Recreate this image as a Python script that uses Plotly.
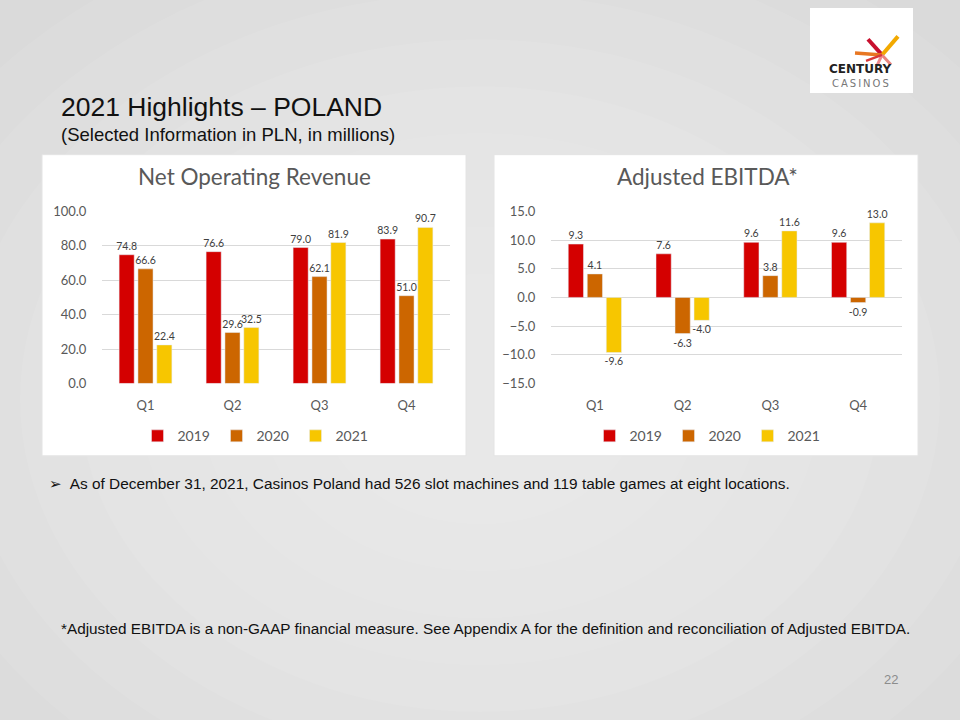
import plotly.graph_objects as go

quarters = ["Q1", "Q2", "Q3", "Q4"]
years = ["2019", "2020", "2021"]
revenue_2019 = [74.8, 76.6, 79.0, 83.9]
revenue_2020 = [66.6, 29.6, 62.1, 51.0]
revenue_2021 = [22.4, 32.5, 81.9, 90.7]
ebitda_2019 = [9.3, 7.6, 9.6, 9.6]
ebitda_2020 = [4.1, -6.3, 3.8, -0.9]
ebitda_2021 = [-9.6, -4.0, 11.6, 13.0]
colors = ["#d40000", "#cc6600", "#f7c600"]

W, H = 960, 720
def px(x):
    return x / W
def py(y):
    return 1 - y / H

fig = go.Figure()
CH_FONT = "Lato, Open Sans, sans-serif"
LBL = dict(family=CH_FONT, size=10.5, color="#404040")

for yr, vals, c in zip(years, [revenue_2019, revenue_2020, revenue_2021], colors):
    fig.add_trace(go.Bar(x=quarters, y=vals, name=yr, marker_color=c,
                         texttemplate="%{y:.1f}", textposition="outside",
                         textfont=LBL, cliponaxis=False, constraintext="none",
                         xaxis="x", yaxis="y", legend="legend"))
for yr, vals, c in zip(years, [ebitda_2019, ebitda_2020, ebitda_2021], colors):
    fig.add_trace(go.Bar(x=quarters, y=vals, name=yr, marker_color=c,
                         texttemplate="%{y:.1f}", textposition="outside",
                         textfont=LBL, cliponaxis=False, constraintext="none",
                         xaxis="x2", yaxis="y2", legend="legend2"))

axis_font = dict(family=CH_FONT, size=13, color="#595959")
common_x = dict(showgrid=False, showline=False, zeroline=False, ticks="outside",
                ticklen=10, tickcolor="rgba(0,0,0,0)", tickfont=axis_font, fixedrange=True)
common_y = dict(showgrid=True, gridcolor="#d9d9d9", gridwidth=1, zeroline=False,
                showline=False, ticks="outside", ticklen=12, tickcolor="rgba(0,0,0,0)",
                tickfont=axis_font, tickformat=".1f", fixedrange=True)

leg_common = dict(orientation="h", xanchor="center", yanchor="middle",
                  font=dict(family=CH_FONT, size=14, color="#595959"),
                  bgcolor="rgba(0,0,0,0)", itemwidth=30, traceorder="normal",
                  entrywidth=34, entrywidthmode="pixels")

ydom = [py(384), py(208)]
fig.update_layout(
    width=W, height=H,
    margin=dict(l=0, r=0, t=0, b=0),
    paper_bgcolor="#d8d8d8",
    plot_bgcolor="rgba(0,0,0,0)",
    barmode="group", bargap=0.35, bargroupgap=0.2,
    xaxis=dict(domain=[px(102), px(450)], anchor="y", **common_x),
    yaxis=dict(domain=ydom, anchor="x", range=[0, 100], dtick=20, **common_y),
    xaxis2=dict(domain=[px(551), px(902)], anchor="y2", **common_x),
    yaxis2=dict(domain=ydom, anchor="x2", range=[-15, 15], dtick=5, **common_y),
    legend=dict(x=px(256), y=py(438), **leg_common),
    legend2=dict(x=px(708), y=py(438), **leg_common),
    showlegend=True,
)

shapes = []
# background radial-ish gradient
for i in range(10):
    rx = 700 - i * 60
    ry = 560 - i * 48
    cx, cy = 480, 400
    shapes.append(dict(type="circle", xref="paper", yref="paper", layer="below",
                       x0=px(cx - rx), x1=px(cx + rx), y0=py(cy + ry), y1=py(cy - ry),
                       fillcolor="white", opacity=0.07, line=dict(width=0)))
# white panels
for x0, x1 in [(42, 466), (494, 918)]:
    shapes.append(dict(type="rect", xref="paper", yref="paper", layer="below",
                       x0=px(x0), x1=px(x1), y0=py(458), y1=py(150),
                       fillcolor="white", line=dict(width=1, color="#e4e4e4")))
# logo box
shapes.append(dict(type="rect", xref="paper", yref="paper", layer="below",
                   x0=px(810), x1=px(913), y0=py(87), y1=py(0),
                   fillcolor="white", line=dict(width=0)))
# logo petals
cx, cy = 882, 48
petals = [((868, 32), "#c8102e", 4), ((898, 29), "#f2a900", 4),
          ((855, 46), "#e87722", 3.5), ((891, 58), "#e9857f", 3),
          ((877, 59), "#f08a8a", 3), ((866, 54), "#d93838", 2.5)]
for (ex, ey), c, w in petals:
    shapes.append(dict(type="line", xref="paper", yref="paper",
                       x0=px(cx), y0=py(cy), x1=px(ex), y1=py(ey),
                       line=dict(color=c, width=w)))
fig.update_layout(shapes=shapes)

ann = []
SLIDE_FONT = "Liberation Sans, Arial, sans-serif"
ann.append(dict(text="2021 Highlights – POLAND", x=px(59), y=py(101), xref="paper", yref="paper",
                xanchor="left", yanchor="middle", showarrow=False,
                font=dict(family=SLIDE_FONT, size=26.5, color="#111111")))
ann.append(dict(text="(Selected Information in PLN, in millions)", x=px(59), y=py(129),
                xref="paper", yref="paper", xanchor="left", yanchor="middle", showarrow=False,
                font=dict(family=SLIDE_FONT, size=18.5, color="#111111")))
ann.append(dict(text="Net Operating Revenue", x=px(254), y=py(172), xref="paper", yref="paper",
                xanchor="center", yanchor="middle", showarrow=False,
                font=dict(family=CH_FONT, size=22.5, color="#595959")))
ann.append(dict(text="Adjusted EBITDA*", x=px(707), y=py(172), xref="paper", yref="paper",
                xanchor="center", yanchor="middle", showarrow=False,
                font=dict(family=CH_FONT, size=22.5, color="#595959")))
ann.append(dict(text="➢  As of December 31, 2021, Casinos Poland had 526 slot machines and 119 table games at eight locations.",
                x=px(47), y=py(486), xref="paper", yref="paper", xanchor="left", yanchor="middle",
                showarrow=False, font=dict(family=SLIDE_FONT, size=15.4, color="#111111")))
ann.append(dict(text="*Adjusted EBITDA is a non-GAAP financial measure. See Appendix A for the definition and reconciliation of Adjusted EBITDA.",
                x=px(59), y=py(635), xref="paper", yref="paper", xanchor="left", yanchor="middle",
                showarrow=False, font=dict(family=SLIDE_FONT, size=15.3, color="#111111")))
ann.append(dict(text="22", x=px(900), y=py(687), xref="paper", yref="paper", xanchor="right",
                yanchor="middle", showarrow=False,
                font=dict(family=SLIDE_FONT, size=13, color="#8c8c8c")))
ann.append(dict(text="<b>CENTURY</b>", x=px(860), y=py(62), xref="paper", yref="paper",
                xanchor="center", yanchor="middle", showarrow=False,
                font=dict(family="DejaVu Sans, sans-serif", size=12, color="#222222")))
ann.append(dict(text="C\u2009A\u2009S\u2009I\u2009N\u2009O\u2009S", x=px(860), y=py(77), xref="paper", yref="paper",
                xanchor="center", yanchor="middle", showarrow=False,
                font=dict(family="DejaVu Sans, sans-serif", size=10, color="#777777")))
fig.update_layout(annotations=ann)

fig.write_html("out.html", config={"displayModeBar": False},
               post_script="document.body.style.margin='0';document.body.style.overflow='hidden';")
